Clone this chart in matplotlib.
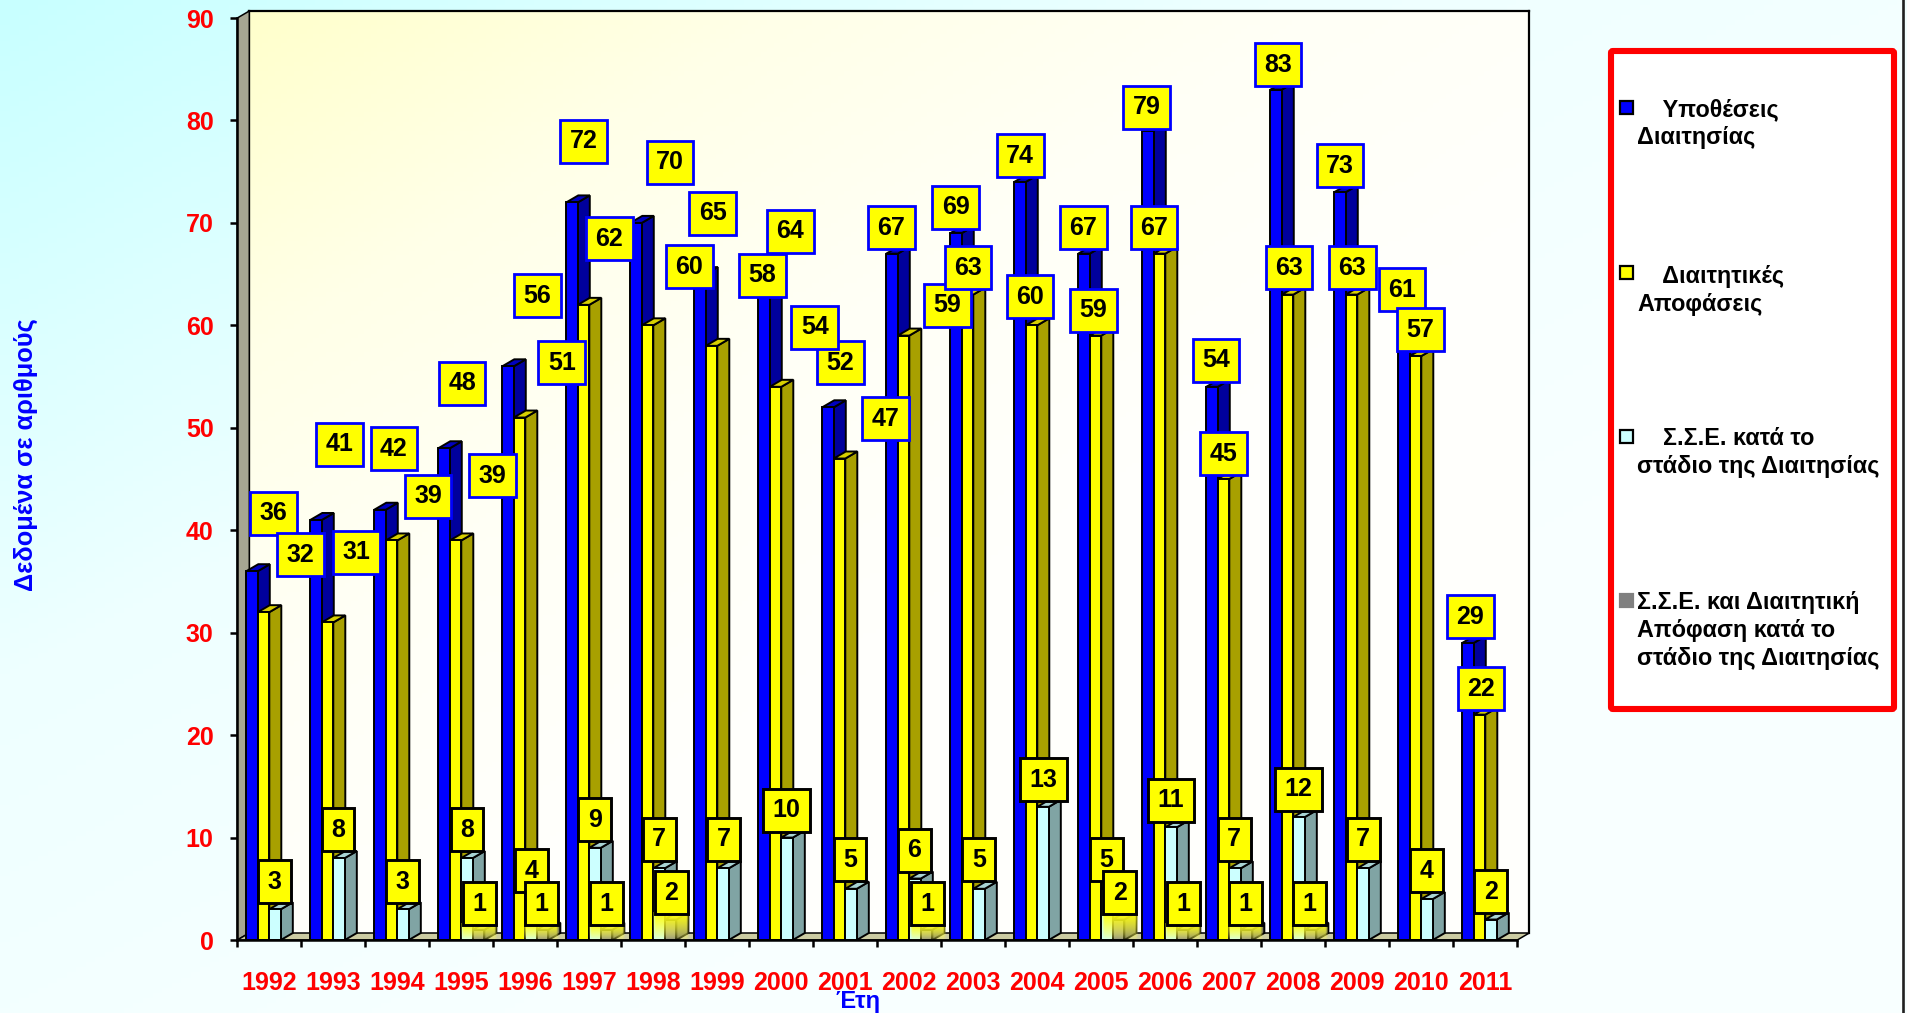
import numpy as np
import matplotlib
matplotlib.use("Agg")
import matplotlib.pyplot as plt
from matplotlib.patches import Rectangle, FancyBboxPatch
from matplotlib.colors import LinearSegmentedColormap

plt.rcParams['font.family'] = ['Liberation Sans', 'DejaVu Sans']
plt.rcParams['font.weight'] = 'bold'

years = [str(y) for y in range(1992, 2012)]
cases = [36, 41, 42, 48, 56, 72, 70, 65, 64, 52, 67, 69, 74, 67, 79, 54, 83, 73, 61, 29]
decisions = [32, 31, 39, 39, 51, 62, 60, 58, 54, 47, 59, 63, 60, 59, 67, 45, 63, 63, 57, 22]
sse = [3, 8, 3, 8, 4, 9, 7, 7, 10, 5, 6, 5, 13, 5, 11, 7, 12, 7, 4, 2]
sse_decision = [0, 0, 0, 1, 1, 1, 2, 0, 0, 0, 1, 0, 0, 2, 1, 1, 1, 0, 0, 0]

# label boxes were placed by hand in the original, centres in px of the 1568 wide view
view_scale = 1.216
cases_xy = [(225, 421), (279, 364), (324, 368), (380, 314), (442, 242), (480, 115), (551, 132),
            (586, 174), (650, 189), (691, 297), (733, 186), (786, 169), (839, 127), (891, 186),
            (943, 87), (1000, 295), (1051, 52), (1102, 135), (1153, 237), (1209, 506)]
decisions_xy = [(247, 455), (293, 453), (352, 407), (405, 390), (462, 297), (501, 195), (567, 218),
                (627, 225), (670, 268), (728, 343), (779, 250), (796, 219), (847, 243), (899, 254),
                (949, 186), (1006, 372), (1060, 219), (1112, 219), (1168, 270), (1218, 565)]
sse_xy = [(226, 724), (278, 681), (331, 724), (384, 681), (437, 715), (489, 673), (542, 689),
          (595, 689), (647, 665), (699, 706), (752, 698), (805, 706), (858, 640), (910, 706),
          (963, 657), (1015, 689), (1068, 648), (1121, 689), (1173, 715), (1226, 732)]
sse_decision_xy = {3: (394, 742), 4: (445, 742), 5: (499, 742), 6: (552, 733), 10: (763, 742),
                   13: (921, 733), 14: (973, 742), 15: (1024, 742), 16: (1077, 742)}

W, H = 1907, 1013
left, right, top, bottom = 237.3, 1517.3, 18, 940
px_x = (right - left) / 20
px_y = (bottom - top) / 90
depth_x = 12 / px_x
depth_y = 7 / px_y

fig = plt.figure(figsize=(W / 100, H / 100), dpi=100)


def rect(l, r, t, b):
    return [l / W, 1 - b / H, (r - l) / W, (b - t) / H]


# page background
bg = fig.add_axes([0, 0, 1, 1], zorder=-2)
gx, gy = np.meshgrid(np.linspace(0, 1, 200), np.linspace(0, 1, 200))
page = LinearSegmentedColormap.from_list('page', ['#C8FFFF', '#EEFFFF', '#F8FFFF', '#F8FFFF'])
bg.imshow(np.clip(gx * 0.5 + gy * 0.5, 0, 1), cmap=page, vmin=0, vmax=1, aspect='auto')
bg.axis('off')

# back wall
wall = fig.add_axes(rect(left + 12, right + 12, top - 7, bottom - 7), zorder=-1)
wallmap = LinearSegmentedColormap.from_list('wall', ['#FFFFCC', '#FFFFE8', '#FFFFF6', '#FFFFFC'])
wall.imshow(np.clip(gx * 0.8 + gy * 0.9, 0, 1), cmap=wallmap, vmin=0, vmax=1, aspect='auto')
wall.set_xticks([])
wall.set_yticks([])
for s in wall.spines.values():
    s.set_linewidth(1.6)
wall.spines['bottom'].set_visible(False)

ax = fig.add_axes(rect(left, right, top, bottom))
ax.patch.set_visible(False)
ax.set_xlim(0, 20)
ax.set_ylim(0, 90)

# side wall and floor
ax.fill([0, depth_x, depth_x, 0], [0, depth_y, 90 + depth_y, 90], color='#A6A692', ec='black', lw=1.1,
        clip_on=False, zorder=1)
ax.fill([0, depth_x, 20 + depth_x, 20], [0, depth_y, depth_y, 0], color='#CCCCA2', ec='black', lw=1.1,
        clip_on=False, zorder=1)


def bar3d(x, w, v, front, side, cap):
    ax.fill([x + w, x + w + depth_x, x + w + depth_x, x + w], [0, depth_y, v + depth_y, v],
            fc=side, ec='black', lw=1.4, zorder=2, clip_on=False)
    ax.fill([x, x + depth_x, x + w + depth_x, x + w], [v, v + depth_y, v + depth_y, v],
            fc=cap, ec='black', lw=1.4, zorder=2, clip_on=False)
    ax.bar(x, v, w, align='edge', fc=front, ec='black', lw=1.4, zorder=2, clip_on=False)


w = 0.18
start = 0.14
series = [(cases, '#0000FF', '#00009C', '#0000C0'),
          (decisions, '#FFFF00', '#A8A000', '#D8D000'),
          (sse, '#CCFFFF', '#80A4A4', '#A8D4D4'),
          (sse_decision, '#808080', '#5C5C5C', '#A0A0A0')]
for i in range(20):
    for k, (vals, front, side, cap) in enumerate(series):
        if vals[i] > 0:
            bar3d(i + start + k * w, w, vals[i], front, side, cap)


def to_data(p):
    return (p[0] * view_scale - left) / px_x, (bottom - p[1] * view_scale - 1.5) / px_y


def box(p, v, edge, lw, z):
    x, y = to_data(p)
    ax.text(x, y, str(v), ha='center', va='center', fontsize=18, color='black', zorder=z, clip_on=False,
            bbox=dict(boxstyle='square,pad=0.38', fc='#FFFF00', ec=edge, lw=lw))


for v, p in zip(cases, cases_xy):
    box(p, v, '#0000FF', 2.0, 5)
for v, p in zip(decisions, decisions_xy):
    box(p, v, '#0000FF', 2.0, 6)
for v, p in zip(sse, sse_xy):
    box(p, v, 'black', 2.1, 7)

# the grey series labels fade out in a yellow glow under the box
fade = np.zeros((40, 40, 4))
fy, fx = np.meshgrid(np.linspace(0, 1, 40), np.linspace(-1, 1, 40), indexing='ij')
fade[..., 0] = 1
fade[..., 1] = 1
fade[..., 2] = fy * 0.4
fade[..., 3] = (1 - fy) ** 0.45 * np.clip((1 - np.abs(fx)) * 6, 0, 1)
for i, p in sse_decision_xy.items():
    x, y = to_data(p)
    half = 19 / px_x
    ax.imshow(fade, extent=(x - half, x + half, 0, y - 20 / px_y), aspect='auto', zorder=3.5, origin='upper')
    box(p, sse_decision[i], 'black', 2.1, 8)

ax.set_xlim(0, 20)
ax.set_ylim(0, 90)

for s in ['top', 'right']:
    ax.spines[s].set_visible(False)
for s in ['left', 'bottom']:
    ax.spines[s].set_linewidth(1.8)
    ax.spines[s].set_zorder(4)

ax.set_yticks(range(0, 91, 10))
ax.tick_params(axis='y', length=5, width=1.8, pad=12, labelsize=18, labelcolor='#FF0000')
ax.set_xticks(range(21))
ax.set_xticklabels([])
ax.tick_params(axis='x', which='major', length=5, width=1.8)
ax.set_xticks(np.arange(20) + 0.5, minor=True)
ax.set_xticklabels(years, minor=True, fontsize=18, color='#FF0000')
ax.tick_params(axis='x', which='minor', length=0, pad=22)

ax.set_xlabel('Έτη', fontsize=17, color='#0000FF', fontweight='bold', va='baseline')
ax.xaxis.set_label_coords((858 - left) / (right - left), (bottom - 1008) / (bottom - top))
ax.set_ylabel('Δεδομένα σε αριθμούς', fontsize=18.3, color='#0000FF', fontweight='bold', va='center')
ax.yaxis.set_label_coords((26 - left) / (right - left), (bottom - 455) / (bottom - top))

# legend, built by hand like the text box of the original
over = fig.add_axes([0, 0, 1, 1], zorder=5)
over.patch.set_visible(False)
over.set_xlim(0, W)
over.set_ylim(H, 0)
over.axis('off')
over.add_patch(FancyBboxPatch((1611, 51), 283, 658, boxstyle='round,pad=0,rounding_size=2', fc='white',
                              ec='#FF0000', lw=4.4))
over.plot([1903, 1903], [0, H], color='#202020', lw=1.9)

legend_rows = [('#0000FF', 'black', 107, 144, '    Υποθέσεις\nΔιαιτησίας'),
               ('#FFFF00', 'black', 272, 311, '    Διαιτητικές\nΑποφάσεις'),
               ('#CCFFFF', 'black', 436, 473, '    Σ.Σ.Ε. κατά το\nστάδιο της Διαιτησίας'),
               ('#808080', '#808080', 600, 665, 'Σ.Σ.Ε. και Διαιτητική\nΑπόφαση κατά το\nστάδιο της Διαιτησίας')]
for color, edge, sy, base, label in legend_rows:
    over.add_patch(Rectangle((1619.5, sy - 6.5), 13, 13, fc=color, ec=edge, lw=1.6))
    over.text(1637, base, label, fontsize=16.8, color='black', ha='left', va='baseline', linespacing=1.28)

fig.savefig('out.png', dpi=100)
